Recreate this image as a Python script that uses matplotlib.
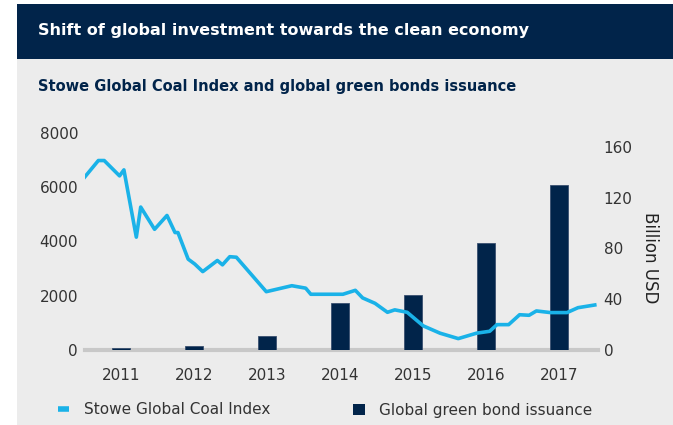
import numpy as np
import matplotlib.pyplot as plt
from matplotlib.lines import Line2D
from matplotlib.patches import Patch

# green bond issuance, billion USD (right axis)
years = [2011, 2012, 2013, 2014, 2015, 2016, 2017]
bond_issuance = [1.5, 3.5, 11, 37, 43, 84, 130]

# Stowe Global Coal Index (left axis)
coal_t = [2010.48, 2010.69, 2010.77, 2010.98, 2011.04, 2011.21, 2011.27, 2011.46,
          2011.63, 2011.74, 2011.78, 2011.92, 2012.01, 2012.12, 2012.32, 2012.39,
          2012.49, 2012.58, 2012.99, 2013.34, 2013.53, 2013.60, 2014.04, 2014.21,
          2014.31, 2014.48, 2014.65, 2014.75, 2014.92, 2015.14, 2015.37, 2015.62,
          2015.87, 2016.05, 2016.15, 2016.31, 2016.46, 2016.59, 2016.69, 2016.88,
          2017.11, 2017.26, 2017.49]
coal_idx = [6300, 6985, 6985, 6420, 6640, 4160, 5270, 4450,
            4960, 4330, 4330, 3350, 3170, 2890, 3300, 3140,
            3440, 3420, 2150, 2370, 2280, 2055, 2055, 2200,
            1920, 1720, 1390, 1480, 1390, 890, 620, 420,
            620, 690, 935, 935, 1300, 1280, 1440, 1380,
            1380, 1560, 1660]

left_ticks = [0, 2000, 4000, 6000, 8000]
right_ticks = [0, 40, 80, 120, 160]

navy = '#01244a'
blue = '#1ab2e8'
grey_bg = '#ececec'
txt = '#333333'

plt.rcParams['font.family'] = ['DejaVu Sans']

fig = plt.figure(figsize=(6.73, 4.25), dpi=100)
fig.patch.set_facecolor('white')

# background panels
fig.patches.append(plt.Rectangle((17 / 673, 0), 1, 1 - 59 / 425, transform=fig.transFigure,
                                 facecolor=grey_bg, edgecolor='none', zorder=-5))
fig.patches.append(plt.Rectangle((17 / 673, 1 - 59 / 425), 1, 55 / 425, transform=fig.transFigure,
                                 facecolor=navy, edgecolor='none', zorder=-5))

fig.text(38 / 673, 1 - 31 / 425, 'Shift of global investment towards the clean economy',
         color='white', fontsize=11.5, fontweight='bold', va='center', ha='left')
fig.text(38 / 673, 1 - 87 / 425, 'Stowe Global Coal Index and global green bonds issuance',
         color=navy, fontsize=10.5, fontweight='bold', va='center', ha='left')

ax = fig.add_axes([85 / 673, 1 - 350 / 425, 513 / 673, 217 / 425])
ax2 = ax.twinx()

# bars on the right scale, line drawn on top
ax2.bar(years, bond_issuance, width=0.25, color=navy, edgecolor='#3a5070', linewidth=0.6)
ax.plot(coal_t, coal_idx, color=blue, lw=2.6, solid_joinstyle='round')
ax2.set_zorder(1)
ax.set_zorder(2)
ax.patch.set_visible(False)
ax2.patch.set_visible(False)

ax.set_xlim(2010.507, 2017.534)
ax.set_ylim(0, 8000)
ax2.set_ylim(0, 160 * 217 / 203)

ax.set_yticks(left_ticks)
ax2.set_yticks(right_ticks)
ax.set_xticks(years)
ax.set_xticklabels([str(y) for y in years])

for a in (ax, ax2):
    for s in a.spines.values():
        s.set_visible(False)
    a.tick_params(length=0, colors=txt, labelsize=11)
ax.tick_params(axis='x', pad=13)
ax.tick_params(axis='y', pad=5)
ax2.tick_params(axis='y', pad=4)

ax2.axhline(0, color='#c8c8c8', lw=3, zorder=0.5, clip_on=False)

ax2.set_ylabel('Billion USD', rotation=270, fontsize=12, color='#222222', labelpad=8)
ax2.yaxis.set_label_coords(1 + (659 - 598) / 513, 0.425)

handles = [Line2D([0], [0], color=blue, lw=4, solid_capstyle='butt'),
           Patch(facecolor=navy, edgecolor='none')]
fig.legend(handles, ['Stowe Global Coal Index', 'Global green bond issuance'],
           loc='center left', bbox_to_anchor=(44 / 673, 1 - 410 / 425), ncol=2,
           frameon=False, fontsize=11, handlelength=0.75, handleheight=0.75,
           handletextpad=0.95, columnspacing=5.45, labelcolor=txt)

fig.savefig('out.png', dpi=100, facecolor=fig.get_facecolor())
